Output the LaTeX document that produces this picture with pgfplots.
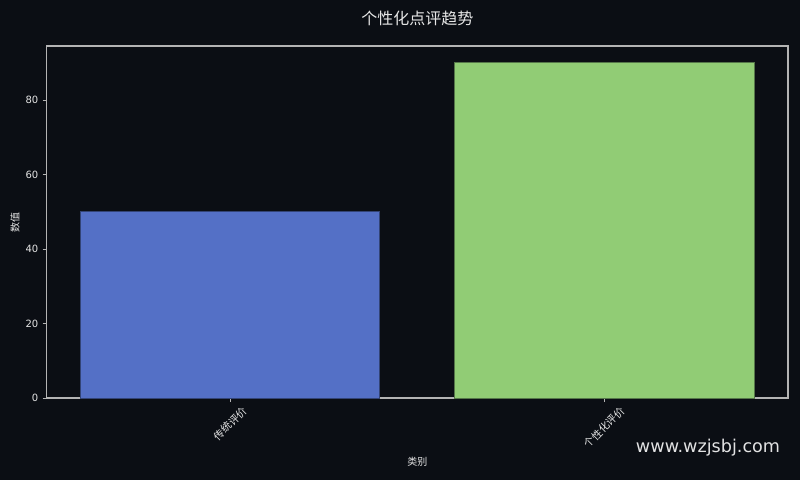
\documentclass[border=0pt]{standalone}
\usepackage{fontspec}
\setmainfont{DejaVu Sans}
\newfontfamily\cjk{Noto Sans CJK SC}
\usepackage{graphicx}
\usepackage{pgfplots}
\pgfplotsset{compat=1.18}
\definecolor{bg}{HTML}{0B0E14}
\definecolor{barblue}{HTML}{5470C6}
\definecolor{bargreen}{HTML}{91CC75}
\definecolor{spine}{HTML}{B4B4B4}
\definecolor{txt}{HTML}{E6E6E6}

\begin{document}
\begin{tikzpicture}
\useasboundingbox (0,0) rectangle (600pt,360pt);
\fill[bg] (0,0) rectangle (600pt,360pt);
\begin{axis}[
  at={(34.9pt,61.5pt)}, anchor=south west,
  scale only axis,
  width=556.1pt, height=264pt,
  xmin=-0.491, xmax=1.491,
  ymin=0, ymax=94.5,
  xtick={0,1},
  xticklabels={\rotatebox{45}{传统评价},\rotatebox{45}{个性化评价}},
  ytick={0,20,40,60,80},
  tick align=outside,
  major tick length=3pt,
  xtick pos=bottom, ytick pos=left,
  tick style={spine, line width=0.6pt},
  axis line style={spine, line width=0.9pt},
  x tick label style={font=\cjk\fontsize{7.8}{9}\selectfont, text=txt, anchor=north, inner sep=0pt, yshift=-2.5pt},
  y tick label style={font=\fontsize{7.5}{9}\selectfont, text=txt, inner sep=0pt, xshift=-3pt},
  /pgf/number format/assume math mode=true,
  title={个性化点评趋势},
  every axis title/.style={font=\cjk\fontsize{12}{14}\selectfont, text=txt, at={(axis description cs:0.5,1)}, anchor=center, yshift=21pt},
  xlabel={类别},
  every axis x label/.style={font=\cjk\fontsize{7.5}{9}\selectfont, text=txt, at={(axis description cs:0.5,0)}, anchor=center, yshift=-47.5pt},
  ylabel={数值},
  every axis y label/.style={font=\cjk\fontsize{7.5}{9}\selectfont, text=txt, at={(axis description cs:0,0.5)}, xshift=-23.6pt, rotate=90, anchor=center},
  ybar, bar width=0.8, bar shift=0pt,
]
\addplot[fill=barblue, draw=barblue!55!bg, line width=0.6pt] coordinates {(0,50)};
\addplot[fill=bargreen, draw=bargreen!55!bg, line width=0.6pt] coordinates {(1,90)};
\end{axis}
\node[text=white!88!bg, font=\fontsize{13.2}{15}\selectfont, anchor=center] at (531pt,24pt) {www.wzjsbj.com};
\end{tikzpicture}
\end{document}
